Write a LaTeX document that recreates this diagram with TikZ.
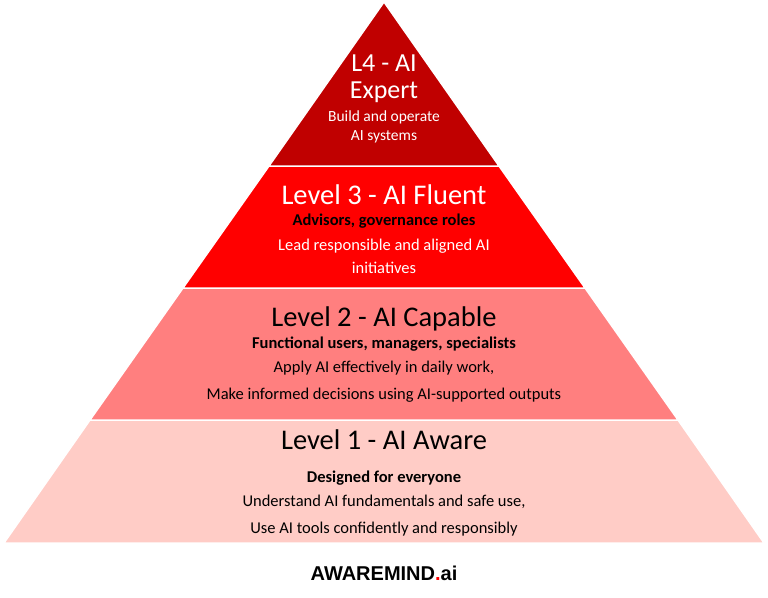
\documentclass[tikz,border=0pt]{standalone}
\usepackage{fontspec}
\setmainfont{Carlito}
\newfontfamily\logofont{Liberation Sans}
\definecolor{tierA}{RGB}{192,0,0}
\definecolor{tierB}{RGB}{255,0,0}
\definecolor{tierC}{RGB}{255,127,127}
\definecolor{tierD}{RGB}{255,204,198}
\begin{document}
\begin{tikzpicture}
[
    x=1pt, y=-1pt,
    tier/.style={draw=white, line width=1.5pt},
    head/.style={font=\fontsize{28.5}{30}\selectfont, align=center},
    sub/.style={font=\bfseries\fontsize{16.5}{19}\selectfont, align=center},
    body/.style={font=\fontsize{16.5}{27}\selectfont, align=center},
]
\useasboundingbox (0,0) rectangle (768,597);
% tiers of the pyramid
\fill[tierD, tier] (90,420) -- (678,420) -- (764,543) -- (4,543) -- cycle;
\fill[tierC, tier] (183,288) -- (585,288) -- (678,420) -- (90,420) -- cycle;
\fill[tierB, tier] (269,166) -- (499,166) -- (585,288) -- (183,288) -- cycle;
\fill[tierA, tier] (384,2) -- (499,166) -- (269,166) -- cycle;
% texts
\node[head, text=white, font=\fontsize{26}{27}\selectfont] (h4) at (384,79) {L4 - AI\\Expert};
\node[body, text=white, font=\fontsize{15.5}{19}\selectfont] (b4) at (384,127) {Build and operate\\AI systems};
\node[head, text=white] (h3) at (384,195) {Level 3 - AI Fluent};
\node[sub] (s3) at (384,221) {Advisors, governance roles};
\node[body, text=white, font=\fontsize{16.5}{23}\selectfont] (b3) at (384,256) {Lead responsible and aligned AI\\initiatives};
\node[head] (h2) at (384,319) {Level 2 - AI Capable};
\node[sub] (s2) at (384,344) {Functional users, managers, specialists};
\node[body] (b2) at (384,382) {Apply AI effectively in daily work,\\Make informed decisions using AI-supported outputs};
\node[head] (h1) at (384,440) {Level 1 - AI Aware};
\node[sub] (s1) at (384,478) {Designed for everyone};
\node[body] (b1) at (384,516) {Understand AI fundamentals and safe use,\\Use AI tools confidently and responsibly};
\node[font=\logofont\bfseries\fontsize{20}{22}\selectfont] (logo) at (384,573) {AWAREMIND{\color{red}.}ai};
\end{tikzpicture}
\end{document}
